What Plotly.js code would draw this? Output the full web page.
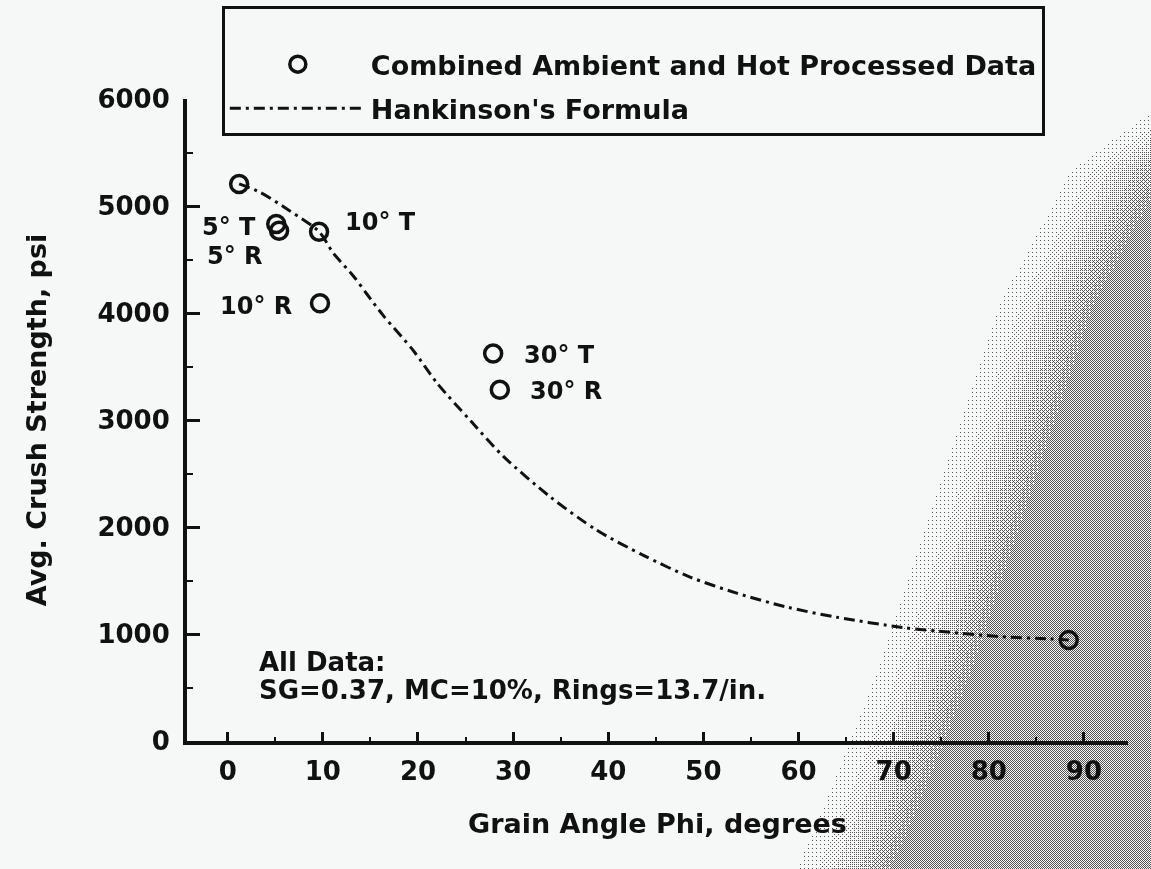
<!DOCTYPE html>
<html><head><meta charset="utf-8">
<script src="https://cdn.plot.ly/plotly-3.0.1.min.js"></script>
<style>
html,body{margin:0;padding:0;background:#f6f8f8;overflow:hidden}
#bg{position:absolute;left:0;top:0}
#chart{position:absolute;left:0;top:0;width:1151px;height:869px}
</style></head><body>
<canvas id="bg" width="1151" height="869"></canvas>
<div id="chart"></div>
<script>
// ---- data ----
const pointAngles    = [1.2, 5.1, 5.4, 9.6, 9.7, 27.9, 28.6, 88.4];
const pointStrengths = [5206, 4831, 4768, 4760, 4090, 3621, 3283, 945];

const curveAngles    = [1.2, 3.4, 6.5, 9.6, 11.1, 13.2, 14.6, 16.4, 19.5, 22.0, 25.6, 29.0, 33.9, 38.8, 43.7, 48.6, 53.5, 58.8, 64.0, 71.0, 75.9, 81.2, 86.4, 88.4];
const curveStrengths = [5206, 5128, 4956, 4760, 4560, 4346, 4180, 3971, 3650, 3345, 2985, 2658, 2282, 1970, 1735, 1532, 1382, 1251, 1157, 1060, 1016, 976, 954, 945];

const pointLabels    = ['5° T', '5° R', '10° R', '10° T', '30° T', '30° R'];
const labelAngles    = [-2.9, -2.4, -1.0, 12.1, 30.9, 31.6];
const labelStrengths = [4803, 4534, 4065, 4850, 3612, 3267];

const noteLines      = ['All Data:', 'SG=0.37, MC=10%, Rings=13.7/in.'];
const noteAngles     = [3.1, 3.1];
const noteStrengths  = [741, 478];

const xTickVals = [0, 10, 20, 30, 40, 50, 60, 70, 80, 90];
const yTickVals = [0, 1000, 2000, 3000, 4000, 5000, 6000];

// ---- scanned-paper grey texture (decorative background) ----
(function () {
  const cv = document.getElementById('bg');
  const ctx = cv.getContext('2d');
  const W = cv.width, H = cv.height;
  const img = ctx.createImageData(W, H);
  const bayer = [[0,8,2,10],[12,4,14,6],[3,11,1,9],[15,7,13,5]];
  const yb = [0, 170, 300, 450, 600, 700, 800, 869];
  const xb = [1400, 1170, 1100, 1050, 1000, 965, 925, 895];
  function edge(y) {
    for (let i = 0; i < yb.length - 1; i++) {
      if (y <= yb[i+1]) { const f = (y - yb[i]) / (yb[i+1] - yb[i]); return xb[i] + f * (xb[i+1] - xb[i]); }
    }
    return xb[xb.length-1];
  }
  const ramp = 120;
  for (let y = 0; y < H; y++) {
    const e = edge(y);
    for (let x = 0; x < W; x++) {
      let t = (x - (e - ramp)) / ramp;
      t = Math.max(0, Math.min(1, t));
      const d = 0.5 * Math.pow(t, 1.6);
      const th = (bayer[y & 3][x & 3] + 0.5) / 16;
      const k = (y * W + x) * 4;
      if (d > th) { img.data[k] = 85; img.data[k+1] = 85; img.data[k+2] = 85; }
      else { img.data[k] = 246; img.data[k+1] = 248; img.data[k+2] = 248; }
      img.data[k+3] = 255;
    }
  }
  ctx.putImageData(img, 0, 0);
})();

const FONT = 'DejaVu Sans';
const ink = '#111111';
const B = 'bold';

const traces = [
  {
    x: pointAngles, y: pointStrengths, type: 'scatter', mode: 'markers',
    name: 'Combined Ambient and Hot Processed Data', legendgroup: 'a',
    marker: { symbol: 'circle-open', size: 17, color: ink, line: { width: 3.5, color: ink } },
    cliponaxis: false
  },
  {
    x: curveAngles, y: curveStrengths, type: 'scatter', mode: 'lines',
    name: "Hankinson's Formula", legendgroup: 'b',
    line: { color: ink, width: 3, dash: '11px,5px,3px,5px', shape: 'spline', smoothing: 0.8 }
  }
];

const annotations = [];
for (let i = 0; i < pointLabels.length; i++) {
  annotations.push({ x: labelAngles[i], y: labelStrengths[i], xref: 'x', yref: 'y', text: pointLabels[i],
    showarrow: false, xanchor: 'left', yanchor: 'middle', font: { family: FONT, size: 24, color: ink, weight: B } });
}
for (let i = 0; i < noteLines.length; i++) {
  annotations.push({ x: noteAngles[i], y: noteStrengths[i], xref: 'x', yref: 'y', text: noteLines[i],
    showarrow: false, xanchor: 'left', yanchor: 'middle', font: { family: FONT, size: 26, color: ink, weight: B } });
}

const layout = {
  width: 1151, height: 869,
  margin: { l: 187, r: 23, t: 99, b: 128, autoexpand: false },
  paper_bgcolor: 'rgba(0,0,0,0)', plot_bgcolor: 'rgba(0,0,0,0)',
  font: { family: FONT, size: 27, color: ink, weight: B },
  showlegend: true,
  legend: {
    x: 0.037, y: 1.145, xanchor: 'left', yanchor: 'top',
    bgcolor: 'rgba(246,248,248,1)', bordercolor: ink, borderwidth: 3,
    font: { family: FONT, size: 27, color: ink, weight: B },
    itemwidth: 136, tracegroupgap: 6,
    title: { text: '\u00a0', font: { size: 24 } }
  },
  xaxis: {
    range: [-4.28, 94.63], tickvals: xTickVals, showgrid: false, zeroline: false,
    showline: true, linecolor: ink, linewidth: 4,
    ticks: 'inside', ticklen: 9, tickwidth: 2.5, tickcolor: ink,
    minor: { dtick: 5, tick0: 0, ticks: 'inside', ticklen: 4, tickwidth: 2, tickcolor: ink },
    tickfont: { family: FONT, size: 26, color: ink, weight: B }, ticklabelstandoff: 4,
    title: { text: 'Grain Angle Phi, degrees', font: { family: FONT, size: 27, color: ink, weight: B }, standoff: 30 }
  },
  yaxis: {
    range: [0, 6000], tickvals: yTickVals, showgrid: false, zeroline: false,
    showline: true, linecolor: ink, linewidth: 4,
    ticks: 'inside', ticklen: 13, tickwidth: 2.5, tickcolor: ink,
    minor: { dtick: 500, tick0: 0, ticks: 'inside', ticklen: 6, tickwidth: 2, tickcolor: ink },
    tickfont: { family: FONT, size: 26, color: ink, weight: B }, ticklabelstandoff: 8,
    title: { text: 'Avg. Crush Strength, psi', font: { family: FONT, size: 27, color: ink, weight: B }, standoff: 44 }
  },
  annotations: annotations
};

Plotly.newPlot('chart', traces, layout, { displayModeBar: false, responsive: false });
</script>
</body></html>
